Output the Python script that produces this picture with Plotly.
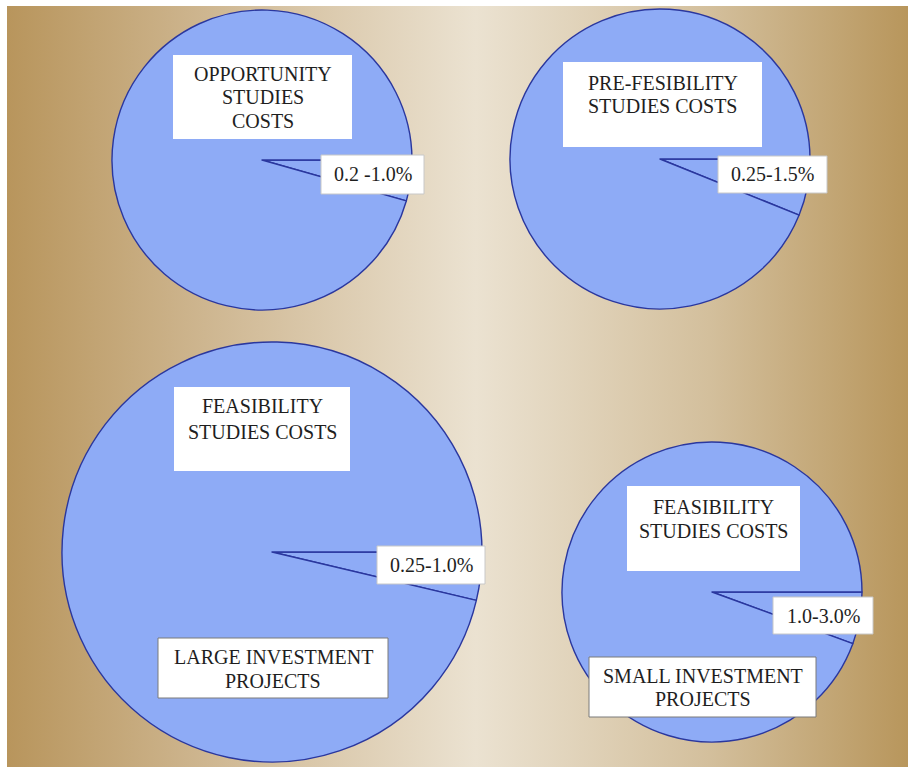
import plotly.graph_objects as go

W, H = 908, 767

# ---- data ----
pie_names = ["Opportunity", "Pre-feasibility", "Feasibility (large)", "Feasibility (small)"]
small_slice_share = [4.4, 6.1, 3.7, 5.6]          # visual share of the highlighted slice (%)
rest_share = [100 - v for v in small_slice_share]
title_lines = [["OPPORTUNITY", "STUDIES", "COSTS"],
               ["PRE-FESIBILITY", "STUDIES COSTS"],
               ["FEASIBILITY", "STUDIES COSTS"],
               ["FEASIBILITY", "STUDIES COSTS"]]
range_texts = ["0.2 -1.0%", "0.25-1.5%", "0.25-1.0%", "1.0-3.0%"]
project_lines = [["LARGE INVESTMENT", "PROJECTS"], ["SMALL INVESTMENT", "PROJECTS"]]

# ---- layout geometry (pixels) ----
pie_geom = [(262, 160, 150), (660, 159, 150), (272, 552, 210), (712, 592, 150)]  # cx, cy, r
title_boxes = [(173, 55, 352, 139), (563, 62, 762, 147), (174, 387, 350, 471), (627, 486, 800, 571)]
title_line_y = [[74, 97, 121], [83, 106], [406, 432], [507, 531]]
range_boxes = [(321, 155, 424, 194), (718, 156, 827, 193), (377, 546, 485, 584), (773, 597, 873, 634)]
project_boxes = [(158, 638, 388, 698), (589, 657, 816, 717)]
project_line_y = [[657, 681], [676, 699]]

def px(x):
    return x / W

def py(y):
    return 1 - y / H

fig = go.Figure()

# background gradient
fig.add_trace(go.Scatter(
    x=[0, 1, 1, 0, 0], y=[0, 0, 1, 1, 0], mode="lines", fill="toself",
    line=dict(width=0), hoverinfo="skip", showlegend=False,
    fillgradient=dict(type="horizontal",
                      colorscale=[[0, "#b8955c"], [0.22, "#ceb690"], [0.52, "#ebe2d1"],
                                  [0.78, "#d3bf9c"], [1, "#b8965c"]]),
))

for i, (cx, cy, r) in enumerate(pie_geom):
    fig.add_trace(go.Pie(
        values=[small_slice_share[i], rest_share[i]],
        labels=[pie_names[i] + " range", pie_names[i] + " rest"],
        sort=False, direction="clockwise", rotation=90,
        textinfo="none", hoverinfo="skip", showlegend=False,
        marker=dict(colors=["#8eabf6", "#8eabf6"], line=dict(color="#2a379e", width=1.4)),
        domain=dict(x=[px(cx - r), px(cx + r)], y=[py(cy + r), py(cy - r)]),
    ))

shapes = []
annotations = []
font = dict(family="Liberation Serif", size=20, color="#1e1e1e")

def add_box(b, border_color, border_width):
    x0, y0, x1, y1 = b
    shapes.append(dict(type="rect", xref="paper", yref="paper", layer="above",
                       x0=px(x0), x1=px(x1), y0=py(y1), y1=py(y0),
                       fillcolor="white",
                       line=dict(color=border_color, width=border_width)))

def add_text(x, y, text):
    annotations.append(dict(x=px(x), y=py(y), xref="paper", yref="paper",
                            text=text, showarrow=False, font=font,
                            xanchor="center", yanchor="middle"))

for i in range(4):
    add_box(title_boxes[i], "white", 0)
    x0, y0, x1, y1 = title_boxes[i]
    for line, ly in zip(title_lines[i], title_line_y[i]):
        add_text((x0 + x1) / 2, ly, line)
    add_box(range_boxes[i], "#c8c8c8", 1)
    x0, y0, x1, y1 = range_boxes[i]
    add_text((x0 + x1) / 2, (y0 + y1) / 2, range_texts[i])

for j in range(2):
    add_box(project_boxes[j], "#7a7a7a", 1)
    x0, y0, x1, y1 = project_boxes[j]
    for line, ly in zip(project_lines[j], project_line_y[j]):
        add_text((x0 + x1) / 2, ly, line)

fig.update_layout(
    width=W, height=H, margin=dict(l=0, r=0, t=0, b=0),
    paper_bgcolor="white", plot_bgcolor="rgba(0,0,0,0)",
    xaxis=dict(domain=[7 / W, 1], range=[0, 1], visible=False, fixedrange=True),
    yaxis=dict(domain=[0, 1 - 6 / H], range=[0, 1], visible=False, fixedrange=True),
    shapes=shapes, annotations=annotations, showlegend=False,
)

fig.write_html("out.html", config=dict(displayModeBar=False))
